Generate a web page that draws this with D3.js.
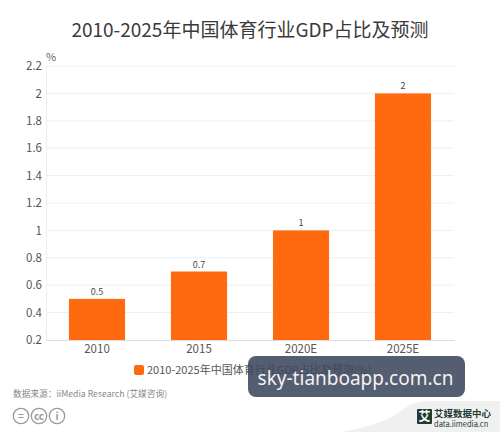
<!DOCTYPE html>
<html><head><meta charset="utf-8">
<script src="https://cdn.jsdelivr.net/npm/d3@7/dist/d3.min.js"></script>
<style>html,body{margin:0;padding:0;background:#fff}svg{display:block}text{font-family:"Noto Sans CJK SC","Open Sans",sans-serif}</style>
</head><body><svg id="c" width="500" height="432"></svg>
<script>
const categories=["2010","2015","2020E","2025E"];
const values=[0.5,0.7,1,2];
const valueLabels=["0.5","0.7","1","2"];
const yTicks=[0.2,0.4,0.6,0.8,1,1.2,1.4,1.6,1.8,2,2.2];
const titleText="2010-2025年中国体育行业GDP占比及预测";
const legendText="2010-2025年中国体育行业GDP占比及预测(%)";
const sourceText="数据来源：iiMedia Research (艾媒咨询)";
const overlayText="sky-tianboapp.com.cn";
const svg=d3.select("#c");
const x=d3.scaleBand().domain(categories).range([46,454]).paddingInner(0.45).paddingOuter(0.225);
const y=d3.scaleLinear().domain([0.2,2.2]).range([340,66]);
const F='"Noto Sans CJK SC",sans-serif';
svg.append("text").attr("x",250).attr("y",37).attr("text-anchor","middle").attr("font-size",19).attr("fill","#3a3a3a").text(titleText);
svg.append("text").attr("x",46).attr("y",61).attr("font-size",11).attr("fill","#666").text("%");
const ya=svg.append("g").attr("transform","translate(46,0)").call(d3.axisLeft(y).tickValues(yTicks).tickSize(0).tickPadding(4).tickFormat(d3.format("~g")));
ya.select(".domain").attr("stroke","#f0ecec").attr("stroke-width",1);
ya.selectAll("text").attr("font-size",11.5).attr("fill","#555").style("font-family",F);
svg.append("g").selectAll("line").data(yTicks.filter(d=>d>0.2)).join("line")
 .attr("x1",46).attr("x2",454).attr("y1",d=>y(d)).attr("y2",d=>y(d)).attr("stroke",d=>d==2.2?"#f6f2f0":"#eeeef8").attr("stroke-width",1);
svg.append("g").selectAll("rect").data(values).join("rect")
 .attr("x",(d,i)=>x(categories[i])).attr("width",x.bandwidth()).attr("y",d=>y(d)).attr("height",d=>y(0.2)-y(d)).attr("fill","#ff6a10");
svg.append("g").selectAll("text").data(values).join("text")
 .attr("x",(d,i)=>x(categories[i])+x.bandwidth()/2).attr("y",d=>y(d)-4).attr("text-anchor","middle").attr("font-size",9).attr("fill","#444").text((d,i)=>valueLabels[i]);
const xa=svg.append("g").attr("transform","translate(0,340)").call(d3.axisBottom(x).tickSize(0).tickPadding(5));
xa.select(".domain").attr("stroke","#dcdcdc");
xa.selectAll("text").attr("font-size",11.5).attr("fill","#555").style("font-family",F);
svg.append("rect").attr("x",134).attr("y",365).attr("width",10).attr("height",10).attr("rx",2).attr("fill","#ff6a10");
svg.append("text").attr("x",147).attr("y",374).attr("font-size",11).attr("fill","#555").text(legendText);
svg.append("text").attr("x",13).attr("y",397).attr("font-size",8.7).attr("fill","#888").text(sourceText);
const icons=[["=",21],["cc",39],["i",57]];
const ic=svg.append("g").selectAll("g").data(icons).join("g").attr("transform",d=>`translate(${d[1]},416)`);
ic.append("circle").attr("r",7.7).attr("fill","#fff").attr("stroke","#9a9a9a").attr("stroke-width",1.3);
ic.append("text").attr("text-anchor","middle").attr("y",3.5).attr("font-size",10).attr("font-weight",700).attr("fill","#9a9a9a").text(d=>d[0]);
svg.append("path").attr("d","M340 432 Q385 425 405 408 Q415 401 430 401 L500 401 L500 432 Z").attr("fill","#f0f0f0");
svg.append("rect").attr("x",417).attr("y",409).attr("width",15).attr("height",15).attr("rx",1).attr("fill","#1f3b33");
svg.append("text").attr("x",424.5).attr("y",421).attr("text-anchor","middle").attr("font-size",12).attr("font-weight",700).attr("fill","#fff").text("艾");
svg.append("text").attr("x",434).attr("y",416.5).attr("font-size",9.5).attr("font-weight",700).attr("fill","#1f3b33").text("艾媒数据中心");
svg.append("text").attr("x",434).attr("y",427).attr("font-size",7.5).attr("fill","#1f3b33").text("data.iimedia.cn");
svg.append("rect").attr("x",248).attr("y",356).attr("width",217).attr("height",41).attr("rx",8).attr("fill","#3d475c").attr("fill-opacity",.88);
svg.append("text").attr("x",355.5).attr("y",385).attr("text-anchor","middle").attr("font-size",19).style("font-family",'"Noto Sans",sans-serif').attr("fill","#f2f2f2").text(overlayText);
</script></body></html>
